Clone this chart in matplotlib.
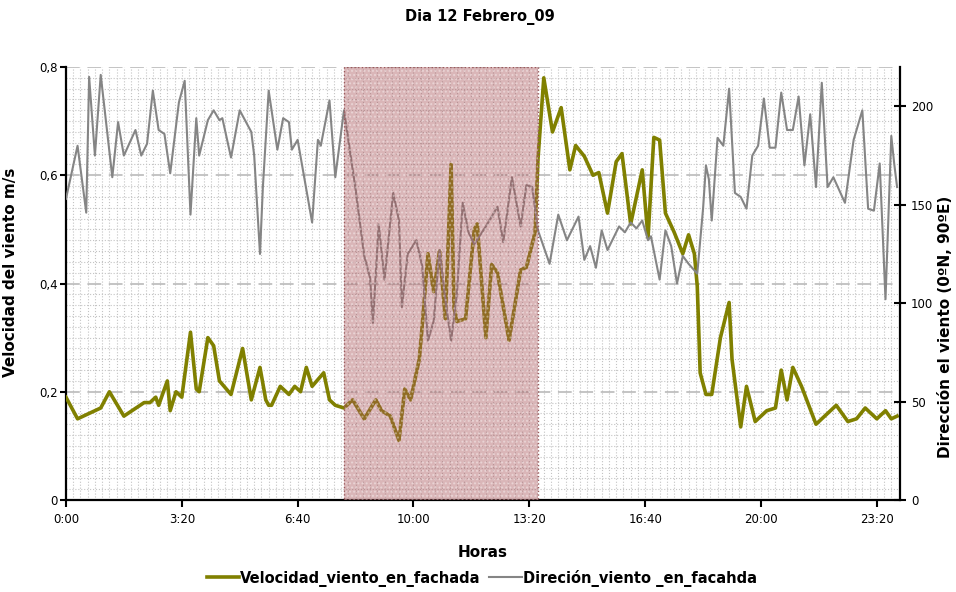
import matplotlib
matplotlib.use('Agg')
import matplotlib.pyplot as plt
from matplotlib.patches import Rectangle
from matplotlib.ticker import MultipleLocator, FuncFormatter

# Tiempos en minutos desde 0:00
t_velocidad = [0, 20, 40, 60, 75, 100, 135, 145, 155, 160, 175, 180, 190, 200,
               215, 225, 230, 245, 255, 265, 285, 305, 320, 335, 345, 350, 355,
               370, 385, 395, 405, 415, 425, 445, 455, 465, 480, 495, 515, 535,
               545, 560, 575, 585, 595, 610, 615, 625, 635, 645, 655, 665, 670,
               675, 690, 705, 710, 725, 735, 745, 765, 785, 795, 810, 815, 825,
               840, 855, 870, 880, 895, 910, 920, 935, 950, 960, 975, 995, 1005,
               1015, 1025, 1035, 1050, 1065, 1075, 1085, 1090, 1095, 1105, 1115,
               1130, 1145, 1150, 1165, 1175, 1190, 1210, 1225, 1235, 1245, 1255,
               1270, 1295, 1310, 1330, 1350, 1365, 1380, 1400, 1415, 1425, 1435]
velocidad = [0.19, 0.15, 0.16, 0.17, 0.20, 0.155, 0.18, 0.18, 0.19, 0.175, 0.22,
             0.165, 0.20, 0.19, 0.31, 0.205, 0.20, 0.30, 0.285, 0.22, 0.195, 0.28,
             0.185, 0.245, 0.185, 0.175, 0.175, 0.21, 0.195, 0.21, 0.20, 0.245,
             0.21, 0.235, 0.185, 0.175, 0.17, 0.185, 0.15, 0.185, 0.165, 0.155,
             0.11, 0.205, 0.185, 0.26, 0.32, 0.455, 0.385, 0.46, 0.335, 0.62,
             0.355, 0.33, 0.335, 0.50, 0.51, 0.30, 0.435, 0.42, 0.295, 0.425,
             0.43, 0.495, 0.63, 0.78, 0.68, 0.725, 0.61, 0.655, 0.635, 0.60,
             0.605, 0.53, 0.625, 0.64, 0.51, 0.61, 0.485, 0.67, 0.665, 0.53,
             0.495, 0.455, 0.49, 0.455, 0.395, 0.235, 0.195, 0.195, 0.30, 0.365,
             0.26, 0.135, 0.21, 0.145, 0.165, 0.17, 0.24, 0.185, 0.245, 0.21,
             0.14, 0.155, 0.175, 0.145, 0.15, 0.17, 0.15, 0.165, 0.15, 0.155]

t_direccion = [0, 20, 35, 40, 50, 60, 80, 90, 100, 120, 130, 140, 150, 160, 170,
               180, 195, 205, 215, 225, 230, 245, 255, 265, 270, 285, 300, 320,
               325, 335, 340, 350, 365, 375, 385, 390, 400, 425, 435, 440, 455,
               465, 480, 500, 515, 525, 530, 540, 550, 565, 575, 580, 590, 605,
               615, 625, 635, 645, 655, 665, 675, 685, 695, 705, 725, 745, 755,
               770, 785, 795, 805, 815, 835, 850, 865, 885, 895, 905, 915, 925,
               935, 955, 965, 975, 985, 995, 1005, 1010, 1025, 1035, 1045, 1055,
               1065, 1075, 1090, 1100, 1105, 1110, 1115, 1125, 1135, 1145, 1155,
               1165, 1175, 1185, 1195, 1205, 1215, 1225, 1235, 1245, 1255, 1265,
               1275, 1285, 1295, 1305, 1315, 1325, 1345, 1360, 1375, 1385, 1395,
               1405, 1415, 1425, 1430, 1435]
direccion = [153, 180, 146, 215, 175, 216, 164, 192, 175, 188, 175, 181, 208,
             188, 186, 166, 202, 213, 145, 194, 175, 193, 198, 193, 194, 174,
             198, 187, 175, 125, 159, 208, 178, 194, 192, 178, 183, 141, 183,
             180, 203, 164, 198, 158, 124, 113, 90, 140, 112, 156, 142, 98, 125,
             132, 119, 81, 91, 127, 102, 81, 105, 151, 136, 130, 139, 149, 131,
             164, 139, 160, 159, 137, 120, 145, 132, 144, 122, 129, 118, 137,
             127, 139, 136, 141, 138, 142, 132, 134, 112, 137, 129, 110, 124,
             120, 115, 148, 170, 163, 142, 184, 180, 209, 156, 154, 148, 175,
             180, 204, 179, 179, 207, 188, 188, 205, 170, 196, 159, 212, 159,
             164, 151, 183, 198, 148, 147, 171, 102, 185, 171, 159]

# franja sombreada (minutos)
franja_inicio = 480
franja_fin = 815

fig = plt.figure(figsize=(9.56, 5.92), dpi=100)
ax = fig.add_axes([0.069, 0.1554, 0.8724, 0.7314])
ax2 = ax.twinx()

bold_font = ['Liberation Sans Narrow', 'DejaVu Sans']

l1, = ax.plot(t_velocidad, velocidad, color='#808000', lw=2.6,
              label='Velocidad_viento_en_fachada', zorder=3)
l2, = ax2.plot(t_direccion, direccion, color='#858585', lw=1.5,
               label='Direción_viento _en_facahda', zorder=3)

# franja rosada por encima de las lineas
ax2.axvspan(franja_inicio, franja_fin, facecolor=(0.66, 0.32, 0.34, 0.42),
            edgecolor=(1, 1, 1, 0.35), hatch='....', lw=0, zorder=5)
ax2.add_patch(Rectangle((franja_inicio, 0), franja_fin - franja_inicio, 220,
                        fill=False, ls=':', ec='#9a5a5c', lw=1, zorder=6))

ax.set_xlim(0, 1440)
ax.set_ylim(0, 0.8)
ax2.set_ylim(0, 220)

ax.xaxis.set_major_locator(MultipleLocator(200))
ax.xaxis.set_minor_locator(MultipleLocator(12.5))
ax.xaxis.set_major_formatter(FuncFormatter(lambda m, p: f'{int(m) // 60}:{int(m) % 60:02d}'))
ax.yaxis.set_major_locator(MultipleLocator(0.2))
ax.yaxis.set_minor_locator(MultipleLocator(0.02))
ax.yaxis.set_major_formatter(FuncFormatter(lambda v, p: f'{v:g}'.replace('.', ',')))
ax2.yaxis.set_major_locator(MultipleLocator(50))

# Grid
ax.grid(which='minor', color='#c4c4c4', ls=':', lw=0.8)
ax.grid(which='major', axis='x', color='#c4c4c4', ls=':', lw=0.8)
ax.grid(which='major', axis='y', color='#b4b4b4', ls=(0, (9, 5)), lw=1.1)
ax.set_axisbelow(True)

for a in (ax, ax2):
    a.spines['top'].set_visible(False)
ax.spines['left'].set_linewidth(1.6)
ax.spines['bottom'].set_linewidth(1.6)
ax.spines['right'].set_visible(False)
ax2.spines['right'].set_linewidth(1.6)
ax2.spines['left'].set_visible(False)
ax2.spines['bottom'].set_visible(False)

ax.tick_params(which='minor', length=0)
ax.tick_params(axis='y', direction='out', length=4, width=1.5, labelsize=8.5, pad=2)
ax.tick_params(axis='x', direction='out', length=5, width=1.5, labelsize=8.5, pad=4)
ax2.tick_params(axis='y', direction='inout', length=8, width=1.5, labelsize=8.5, pad=4)

# Labels
ax.set_xlabel('Horas', fontfamily=bold_font, fontweight='bold', fontsize=11)
ax.xaxis.set_label_coords(0.5, -0.104)
ax.set_ylabel('Velocidad del viento m/s', fontfamily=bold_font, fontweight='bold', fontsize=11)
ax.yaxis.set_label_coords(-0.0576, 0.527)
ax2.set_ylabel('Dirección el viento (0ºN, 90ºE)', fontfamily=bold_font,
               fontweight='bold', fontsize=11, rotation=90)
ax2.yaxis.set_label_coords(1.0456, 0.40)
fig.suptitle('Dia 12 Febrero_09', x=0.502, y=0.971, va='center',
             fontfamily=bold_font, fontweight='bold', fontsize=10.5)

# Legend
leg = fig.legend([l1, l2], [l1.get_label(), l2.get_label()], loc='center',
                 bbox_to_anchor=(0.504, 0.0236), ncol=2, frameon=False,
                 handlelength=2.2, handletextpad=0.1, columnspacing=0.6,
                 prop={'family': bold_font, 'weight': 'bold', 'size': 10.5})

fig.savefig('out.png', dpi=100)
